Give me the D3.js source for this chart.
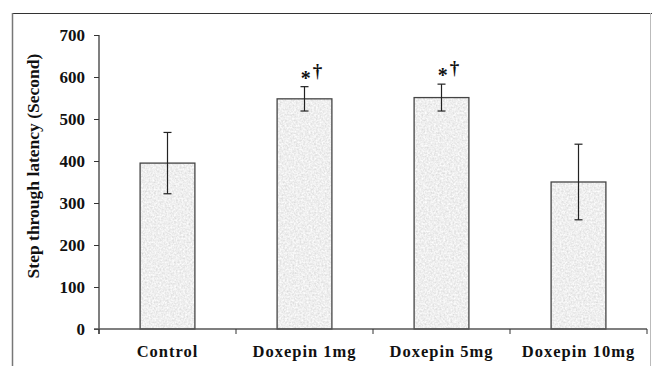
<!DOCTYPE html>
<html>
<head>
<meta charset="utf-8">
<script src="https://cdn.jsdelivr.net/npm/d3@7"></script>
<style>
  body { margin: 0; background: #fff; }
  text { font-family: "Liberation Serif", "Times New Roman", serif; font-weight: bold; fill: #111; }
</style>
</head>
<body>
<svg id="chart"></svg>
<script>
const width = 652;
const height = 366;

const groups = ["Control", "Doxepin 1mg", "Doxepin 5mg", "Doxepin 10mg"];
const means = [395, 548, 551, 350];
const errors = [73, 29, 32, 90];
const marks = ["", "*\u2020", "*\u2020", ""];
const yTicks = [0, 100, 200, 300, 400, 500, 600, 700];

const margin = { top: 35, right: 5, bottom: 37, left: 99 };

const svg = d3.select("#chart").attr("width", width).attr("height", height);

// bar texture
const defs = svg.append("defs");
const filt = defs.append("filter").attr("id", "grain")
  .attr("x", 0).attr("y", 0).attr("width", 1).attr("height", 1);
filt.append("feTurbulence").attr("type", "fractalNoise")
  .attr("baseFrequency", 0.55).attr("numOctaves", 2).attr("seed", 3).attr("result", "noise");
filt.append("feColorMatrix").attr("in", "noise").attr("type", "matrix")
  .attr("values", "0 0 0 0.4 0.66  0 0 0 0.4 0.66  0 0 0 0.4 0.66  0 0 0 0 1")
  .attr("result", "gray");
filt.append("feComposite").attr("in", "gray").attr("in2", "SourceGraphic").attr("operator", "in");

// outer frame
svg.append("line").attr("x1", 12).attr("x2", 652).attr("y1", 13.5).attr("y2", 13.5)
  .attr("stroke", "#333").attr("stroke-width", 1);
svg.append("line").attr("x1", 12.5).attr("x2", 12.5).attr("y1", 13).attr("y2", 366)
  .attr("stroke", "#777").attr("stroke-width", 1.5);
svg.append("line").attr("x1", 650.5).attr("x2", 650.5).attr("y1", 13).attr("y2", 366)
  .attr("stroke", "#bbb").attr("stroke-width", 1);

const x = d3.scaleBand().domain(groups)
  .range([margin.left, width - margin.right]).paddingInner(0.6).paddingOuter(0.3);
const y = d3.scaleLinear().domain([0, 700]).range([height - margin.bottom, margin.top]);

const step = x.step();
const x0 = margin.left;
const xEnd = x0 + step * groups.length;

// bars
const bars = svg.append("g");
groups.forEach((g, i) => {
  const bx = x0 + step * i + (step - x.bandwidth()) / 2;
  bars.append("rect")
    .attr("x", bx).attr("y", y(means[i]))
    .attr("width", x.bandwidth()).attr("height", y(0) - y(means[i]))
    .attr("fill", "#eee").attr("filter", "url(#grain)");
  bars.append("rect")
    .attr("x", bx).attr("y", y(means[i]))
    .attr("width", x.bandwidth()).attr("height", y(0) - y(means[i]))
    .attr("fill", "none").attr("stroke", "#444").attr("stroke-width", 1.3);

  const cx = bx + x.bandwidth() / 2;
  const eb = svg.append("g").attr("stroke", "#222").attr("stroke-width", 1.2);
  eb.append("line").attr("x1", cx).attr("x2", cx)
    .attr("y1", y(means[i] + errors[i])).attr("y2", y(means[i] - errors[i]));
  eb.append("line").attr("x1", cx - 4).attr("x2", cx + 4)
    .attr("y1", y(means[i] + errors[i])).attr("y2", y(means[i] + errors[i]));
  eb.append("line").attr("x1", cx - 4).attr("x2", cx + 4)
    .attr("y1", y(means[i] - errors[i])).attr("y2", y(means[i] - errors[i]));

  if (marks[i]) {
    const t = svg.append("text")
      .attr("x", cx + 7).attr("y", y(means[i] + errors[i]) - 2)
      .attr("text-anchor", "middle").style("font-size", "20px");
    t.append("tspan").text(marks[i][0]).attr("dy", 0);
    t.append("tspan").text(marks[i][1]).attr("dy", -8).attr("dx", 2).style("font-size", "19px");
  }
});

// y axis
const yAxis = svg.append("g").attr("transform", `translate(${x0},0)`)
  .call(d3.axisLeft(y).tickValues(yTicks).tickSize(5).tickPadding(9));
yAxis.select(".domain").attr("stroke", "#555").attr("stroke-width", 1.5)
  .attr("d", `M0,${y(700)}V${y(0) + 5}`);
yAxis.selectAll(".tick line").attr("stroke", "#333");
yAxis.selectAll(".tick text").style("font-size", "17px")
  .style("font-family", "Liberation Serif, serif").style("font-weight", "bold").attr("fill", "#111");

// x axis
const xAxis = svg.append("g").attr("transform", `translate(0,${y(0)})`);
xAxis.append("line").attr("x1", x0 - 5).attr("x2", xEnd).attr("y1", 0).attr("y2", 0)
  .attr("stroke", "#555").attr("stroke-width", 1.5);
d3.range(groups.length + 1).forEach(k => {
  xAxis.append("line").attr("x1", x0 + step * k).attr("x2", x0 + step * k)
    .attr("y1", 0).attr("y2", 5).attr("stroke", "#333");
});
groups.forEach((g, i) => {
  xAxis.append("text")
    .attr("x", x0 + step * i + step / 2).attr("y", 28)
    .attr("text-anchor", "middle").style("font-size", "16.5px").style("letter-spacing", "1px")
    .text(g);
});

// y title
svg.append("text")
  .attr("transform", `translate(39,166) rotate(-90)`)
  .attr("text-anchor", "middle").style("font-size", "17.5px")
  .text("Step through latency (Second)");
</script>
</body>
</html>
